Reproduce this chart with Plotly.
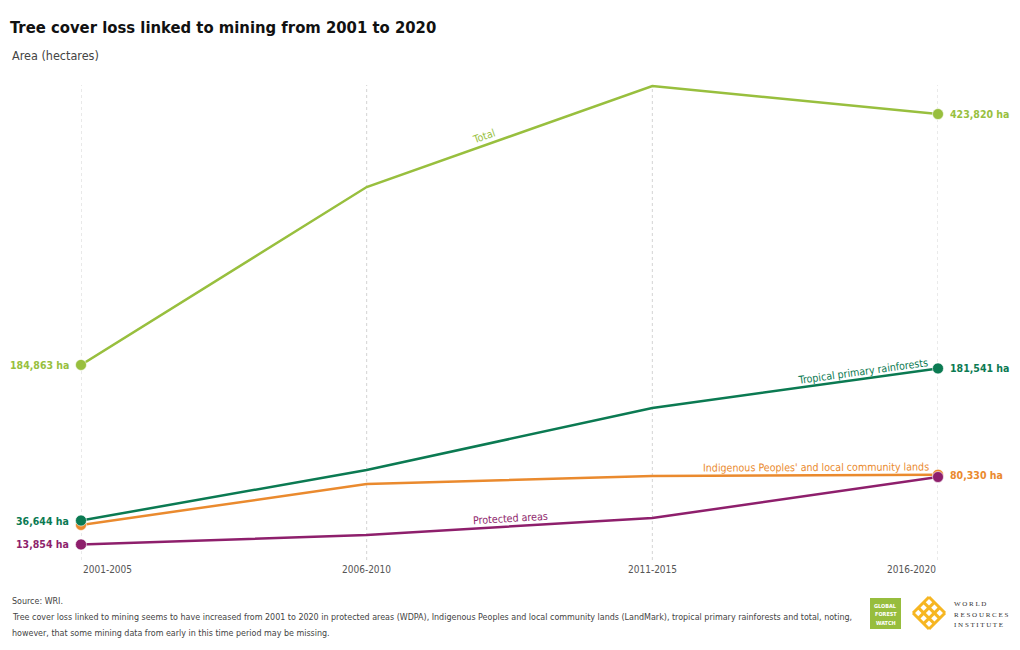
import plotly.graph_objects as go
import math

periods = ["2001-2005", "2006-2010", "2011-2015", "2016-2020"]
total = [184863, 354300, 450500, 423820]
tropical = [36644, 84800, 143800, 181541]
indigenous = [32400, 71400, 79000, 80330]
protected = [13854, 22900, 39000, 78100]

series_names = ["Total", "Indigenous Peoples' and local community lands",
                "Tropical primary rainforests", "Protected areas"]
colors = {"Total": "#98bf3e", "Tropical primary rainforests": "#0b7a52",
          "Indigenous Peoples' and local community lands": "#ea8a2e",
          "Protected areas": "#8e1f6c"}
values = {"Total": total, "Tropical primary rainforests": tropical,
          "Indigenous Peoples' and local community lands": indigenous,
          "Protected areas": protected}

FONT = "DejaVu Sans Condensed, Liberation Sans Narrow, Roboto, sans-serif"
W, H = 1020, 650
ML, MR, MT, MB = 81, 82, 80, 91
PW, PH = W - ML - MR, H - MT - MB
YMAX = 456250

def px(X):
    return (X - ML) / PW

def py(Y):
    return (H - MB - Y) / PH

xs = list(range(len(periods)))
fig = go.Figure()

for name in series_names:
    v = values[name]
    fig.add_trace(go.Scatter(
        x=xs, y=v, mode="lines+markers", name=name,
        line=dict(color=colors[name], width=2.5),
        marker=dict(size=[11, 0, 0, 11], color=colors[name], opacity=1,
                    line=dict(color="white", width=0.6)),
        cliponaxis=False, hoverinfo="skip", showlegend=False))

def fmt(v):
    return f"{v:,} ha"

annotations = []
for name in ["Total", "Tropical primary rainforests", "Protected areas"]:
    annotations.append(dict(x=0, y=values[name][0], xref="x", yref="y",
                            text=f"<b>{fmt(values[name][0])}</b>", showarrow=False,
                            xanchor="right", xshift=-10,
                            font=dict(family=FONT, size=10.5, color=colors[name])))
for name in ["Total", "Tropical primary rainforests", "Indigenous Peoples' and local community lands"]:
    annotations.append(dict(x=3, y=values[name][3], xref="x", yref="y",
                            text=f"<b>{fmt(values[name][3])}</b>", showarrow=False,
                            xanchor="left", xshift=10,
                            font=dict(family=FONT, size=10.5, color=colors[name])))

def seg_label(name, seg, frac, shift):
    v = values[name]
    y0, y1 = v[seg], v[seg + 1]
    xm = seg + frac
    ym = y0 + (y1 - y0) * frac
    dx_px = PW / 3
    dy_px = (y1 - y0) / YMAX * PH
    ang = -math.degrees(math.atan2(dy_px, dx_px))
    annotations.append(dict(x=xm, y=ym, xref="x", yref="y", text=name, showarrow=False,
                            textangle=ang, yshift=shift, xanchor="center", yanchor="middle",
                            font=dict(family=FONT, size=10.6, color=colors[name])))

seg_label("Total", 1, 0.41, 10)
seg_label("Tropical primary rainforests", 2, 0.737, 8)
seg_label("Indigenous Peoples' and local community lands", 2, 0.573, 8)
seg_label("Protected areas", 1, 0.502, 8)

anchors = ["left", "center", "center", "right"]
for i, p in enumerate(periods):
    annotations.append(dict(x=i, y=py(569), xref="x", yref="paper", text=p, showarrow=False,
                            xanchor=anchors[i], yanchor="middle",
                            font=dict(family=FONT, size=10, color="#555555")))

annotations.append(dict(x=px(10), y=py(56), xref="paper", yref="paper", text="Area (hectares)",
                        showarrow=False, xanchor="left", yanchor="middle",
                        font=dict(family=FONT, size=12.5, color="#444444")))
footer = ["Source: WRI.",
          "Tree cover loss linked to mining seems to have increased from 2001 to 2020 in protected areas (WDPA), Indigenous Peoples and local community lands (LandMark), tropical primary rainforests and total, noting,",
          "however, that some mining data from early in this time period may be missing."]
for i, t in enumerate(footer):
    annotations.append(dict(x=px(10), y=py(601 + 16 * i), xref="paper", yref="paper", text=t,
                            showarrow=False, xanchor="left", yanchor="middle",
                            font=dict(family=FONT, size=8.9, color="#444444")))

shapes = []
for i in xs:
    shapes.append(dict(type="line", xref="x", yref="paper", x0=i, x1=i, y0=py(560), y1=py(85),
                       line=dict(color="#d4d4d4", width=1, dash="dot"), layer="below"))
shapes.append(dict(type="rect", xref="paper", yref="paper", x0=px(870), x1=px(901),
                   y0=py(629), y1=py(598), fillcolor="#97bd3d", line=dict(width=0)))
for i, t in enumerate(["GLOBAL", "FOREST", "WATCH"]):
    annotations.append(dict(x=px(885.5), y=py(605.5 + 8.5 * i), xref="paper", yref="paper", text=f"<b>{t}</b>",
                            showarrow=False, xanchor="center", yanchor="middle",
                            font=dict(family=FONT, size=5.5, color="white")))
cx, cy, r = 929, 613, 16
for k in range(4):
    a = k * r / 3
    sx, sy = cx - r + a, cy - a
    shapes.append(dict(type="line", xref="paper", yref="paper", x0=px(sx), y0=py(sy),
                       x1=px(sx + r), y1=py(sy + r), line=dict(color="#f6b622", width=3)))
    sx2, sy2 = cx - r + a, cy + a
    shapes.append(dict(type="line", xref="paper", yref="paper", x0=px(sx2), y0=py(sy2),
                       x1=px(sx2 + r), y1=py(sy2 - r), line=dict(color="#f6b622", width=3)))
for i, t in enumerate(["WORLD", "RESOURCES", "INSTITUTE"]):
    annotations.append(dict(x=px(952), y=py(604 + 10.5 * i), xref="paper", yref="paper",
                            text=" ".join(t), showarrow=False, xanchor="left", yanchor="middle",
                            font=dict(family="Liberation Serif", size=7, color="#333333")))

fig.update_layout(
    width=W, height=H, margin=dict(l=ML, r=MR, t=MT, b=MB),
    paper_bgcolor="white", plot_bgcolor="white",
    title=dict(text="<b>Tree cover loss linked to mining from 2001 to 2020</b>",
               x=10 / W, xref="container", xanchor="left",
               y=1 - 27 / H, yref="container", yanchor="middle",
               font=dict(family=FONT, size=16.5, color="#111111")),
    xaxis=dict(range=[0, 3], showticklabels=False, showgrid=False, zeroline=False,
               showline=False, fixedrange=True),
    yaxis=dict(range=[0, YMAX], showticklabels=False, showgrid=False, zeroline=False,
               showline=False, fixedrange=True),
    annotations=annotations, shapes=shapes, showlegend=False,
)

fig.write_html("out.html")
